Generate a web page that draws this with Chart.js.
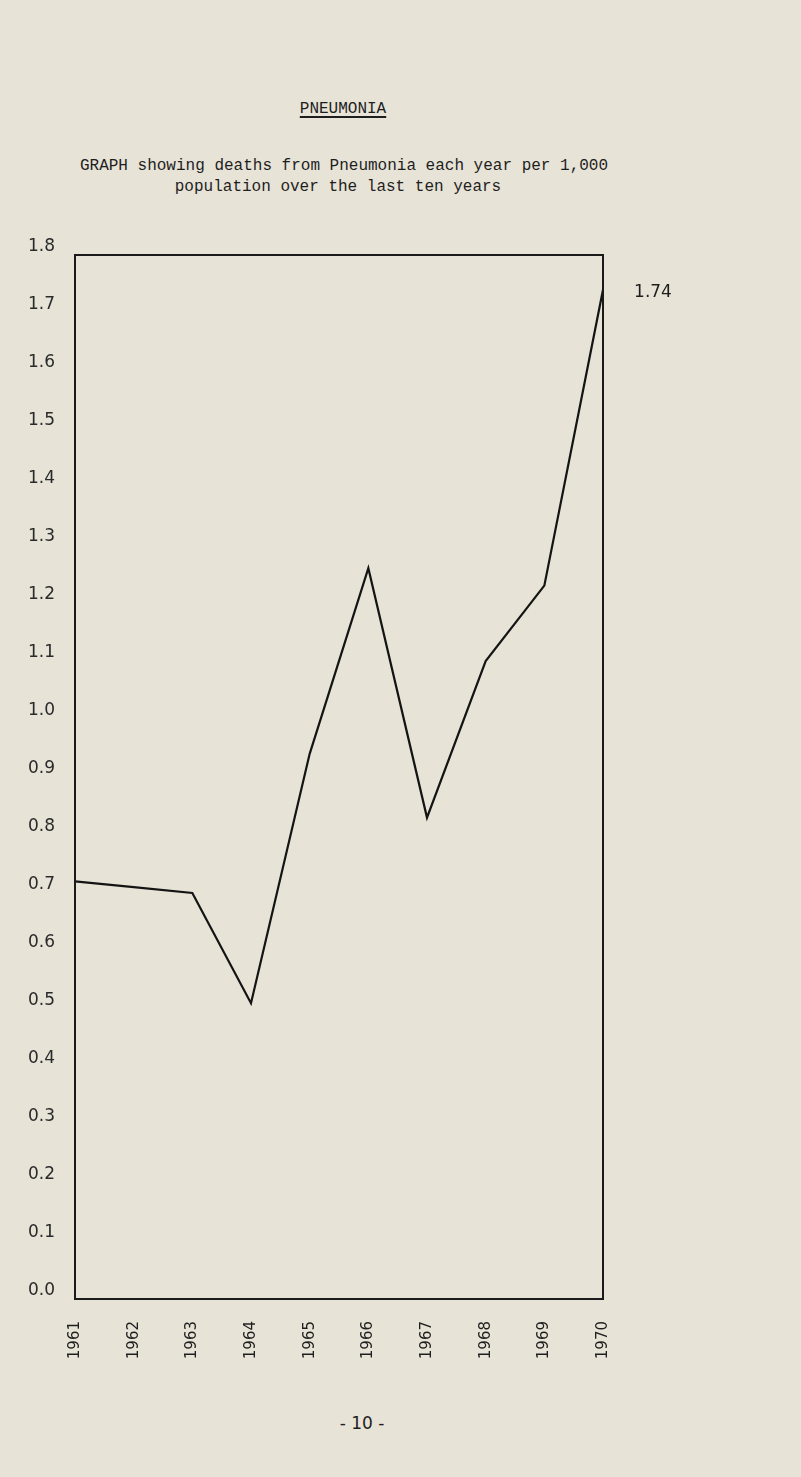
<!DOCTYPE html>
<html>
<head>
<meta charset="utf-8">
<script src="https://cdn.jsdelivr.net/npm/chart.js@4/dist/chart.umd.min.js"></script>
<style>
  html, body { margin:0; padding:0; background:#e7e3d7; }
  body { width:801px; height:1477px; position:relative; overflow:hidden; }
  canvas { position:absolute; left:0; top:0; }
  .t { position:absolute; color:#1e1e1e; white-space:pre; text-align:center; }
  .mono { font-family:"Liberation Mono","DejaVu Sans Mono",monospace; font-size:16px; }
</style>
</head>
<body>
<div class="t mono" style="left:243px;width:200px;top:100px;text-decoration:underline;text-decoration-thickness:2px;text-underline-offset:3px;">PNEUMONIA</div>
<div class="t mono" style="left:41px;width:606px;top:157px;">GRAPH showing deaths from Pneumonia each year per 1,000</div>
<div class="t mono" style="left:38px;width:600px;top:178px;">population over the last ten years</div>
<div class="t" style="left:262px;width:200px;top:1413px;font-family:'DejaVu Sans',sans-serif;font-size:17px;">- 10 -</div>
<canvas id="c" width="801" height="1477"></canvas>
<script>
const years = ["1961","1962","1963","1964","1965","1966","1967","1968","1969","1970"];
const deathsPer1000 = [0.72, 0.71, 0.70, 0.51, 0.94, 1.26, 0.83, 1.10, 1.23, 1.74];
const lastValueLabel = "1.74";

const boxPlugin = {
  id: 'box',
  afterDraw(chart) {
    const a = chart.chartArea, ctx = chart.ctx;
    ctx.save();
    ctx.strokeStyle = '#1a1a1a';
    ctx.lineWidth = 2;
    ctx.strokeRect(a.left, a.top, a.right - a.left, a.bottom - a.top);
    // annotation for last value
    const meta = chart.getDatasetMeta(0);
    const p = meta.data[meta.data.length - 1];
    ctx.fillStyle = '#1e1e1e';
    ctx.font = '17px "DejaVu Sans", sans-serif';
    ctx.textAlign = 'center';
    ctx.textBaseline = 'middle';
    ctx.fillText(lastValueLabel, p.x + 50, p.y + 3);
    ctx.restore();
  }
};

new Chart(document.getElementById('c'), {
  type: 'line',
  data: {
    labels: years,
    datasets: [{
      data: deathsPer1000,
      borderColor: '#141414',
      borderWidth: 2.2,
      pointRadius: 0,
      tension: 0,
      fill: false
    }]
  },
  options: {
    responsive: false,
    animation: false,
    devicePixelRatio: 1,
    layout: { padding: { top: 255, right: 198, left: 0, bottom: 0 } },
    plugins: { legend: { display: false }, tooltip: { enabled: false } },
    scales: {
      x: {
        type: 'category',
        offset: false,
        grid: { display: false, drawTicks: false },
        border: { display: false },
        ticks: {
          maxRotation: 90, minRotation: 90, autoSkip: false,
          padding: 22,
          color: '#1e1e1e',
          font: { family: '"DejaVu Sans", sans-serif', size: 15 }
        },
        afterFit(s) { s.height = 178; }
      },
      y: {
        min: 0, max: 1.8,
        grid: { display: false, drawTicks: false },
        border: { display: false },
        ticks: {
          stepSize: 0.1,
          padding: 20,
          labelOffset: -8,
          color: '#2a2a2a',
          font: { family: '"DejaVu Sans", sans-serif', size: 17 },
          callback: v => Number(v).toFixed(1)
        },
        afterFit(s) { s.width = 75; }
      }
    }
  },
  plugins: [boxPlugin]
});
</script>
</body>
</html>
